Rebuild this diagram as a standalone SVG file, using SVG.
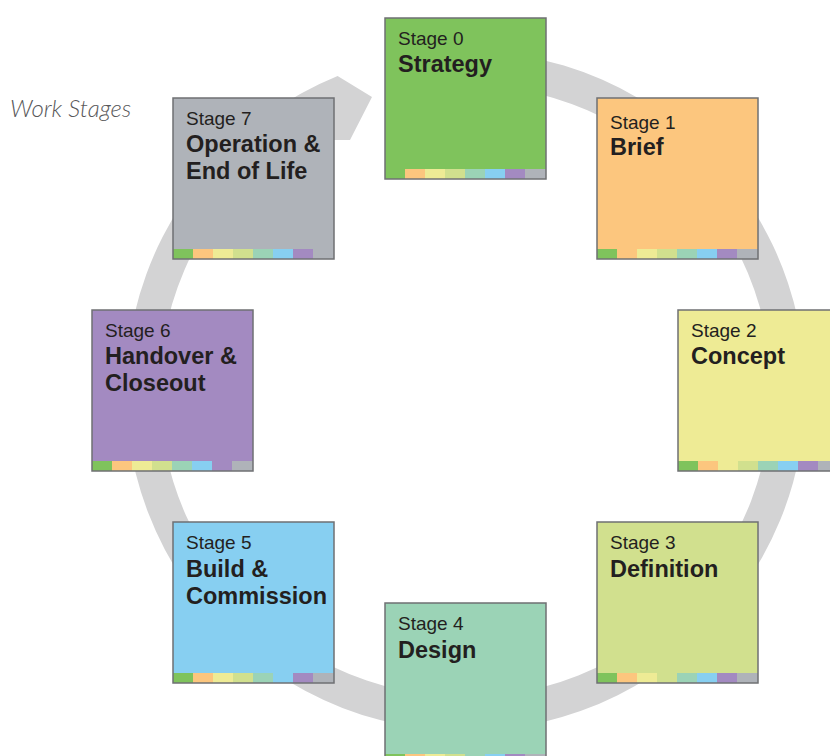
<svg xmlns="http://www.w3.org/2000/svg" xmlns:xlink="http://www.w3.org/1999/xlink" width="830" height="756" viewBox="0 0 830 756">
<style>
.lbl{font-family:"Liberation Sans",Arial,sans-serif;font-size:19px;fill:#231f20}
.ttl{font-family:"Liberation Sans",Arial,sans-serif;font-size:23.5px;font-weight:bold;fill:#231f20}
.frame{fill:none;stroke:#6f7073;stroke-width:1.5}
.ring{fill:#d3d3d4}
</style>
<defs>
<g id="strip">
<rect x="0" y="0" width="20" height="10" fill="#7fc35c"/>
<rect x="20" y="0" width="20" height="10" fill="#fcc67e"/>
<rect x="40" y="0" width="20" height="10" fill="#eeeb95"/>
<rect x="60" y="0" width="20" height="10" fill="#d1e08e"/>
<rect x="80" y="0" width="20" height="10" fill="#9bd3b6"/>
<rect x="100" y="0" width="20" height="10" fill="#87cff1"/>
<rect x="120" y="0" width="20" height="10" fill="#a38ac1"/>
<rect x="140" y="0" width="21" height="10" fill="#afb3b9"/>
</g>
</defs>
<rect width="830" height="756" fill="#ffffff"/>
<text x="10" y="117" font-family="Lato,'Open Sans',sans-serif" font-style="italic" font-weight="300" font-size="24" fill="#58585a">Work Stages</text>
<g id="connectors">
<path class="ring" d="M524.5,56.2 A340,340 0 1 1 337.6,76.1 L372,97 L350,140 L330,140 L330,116.6 A306,306 0 1 0 518.6,89.6 Z"/>
</g>
<g id="stage0">
<rect x="385" y="18" width="161" height="161" fill="#7fc35c"/>
<use xlink:href="#strip" x="385" y="169"/>
<rect class="frame" x="385" y="18" width="161" height="161"/>
<text class="lbl" x="398" y="45">Stage 0</text>
<text class="ttl" x="398" y="72">Strategy</text>
</g>
<g id="stage1">
<rect x="597" y="98" width="161" height="161" fill="#fcc67e"/>
<use xlink:href="#strip" x="597" y="249"/>
<rect class="frame" x="597" y="98" width="161" height="161"/>
<text class="lbl" x="610" y="129">Stage 1</text>
<text class="ttl" x="610" y="155">Brief</text>
</g>
<g id="stage2">
<rect x="678" y="310" width="161" height="161" fill="#eeeb95"/>
<use xlink:href="#strip" x="678" y="461"/>
<rect class="frame" x="678" y="310" width="161" height="161"/>
<text class="lbl" x="691" y="337">Stage 2</text>
<text class="ttl" x="691" y="364">Concept</text>
</g>
<g id="stage3">
<rect x="597" y="522" width="161" height="161" fill="#d1e08e"/>
<use xlink:href="#strip" x="597" y="673"/>
<rect class="frame" x="597" y="522" width="161" height="161"/>
<text class="lbl" x="610" y="549">Stage 3</text>
<text class="ttl" x="610" y="577">Definition</text>
</g>
<g id="stage4">
<rect x="385" y="603" width="161" height="161" fill="#9bd3b6"/>
<use xlink:href="#strip" x="385" y="754"/>
<rect class="frame" x="385" y="603" width="161" height="161"/>
<text class="lbl" x="398" y="630">Stage 4</text>
<text class="ttl" x="398" y="658">Design</text>
</g>
<g id="stage5">
<rect x="173" y="522" width="161" height="161" fill="#87cff1"/>
<use xlink:href="#strip" x="173" y="673"/>
<rect class="frame" x="173" y="522" width="161" height="161"/>
<text class="lbl" x="186" y="549">Stage 5</text>
<text class="ttl" x="186" y="577">Build &amp;</text>
<text class="ttl" x="186" y="604">Commission</text>
</g>
<g id="stage6">
<rect x="92" y="310" width="161" height="161" fill="#a38ac1"/>
<use xlink:href="#strip" x="92" y="461"/>
<rect class="frame" x="92" y="310" width="161" height="161"/>
<text class="lbl" x="105" y="337">Stage 6</text>
<text class="ttl" x="105" y="364">Handover &amp;</text>
<text class="ttl" x="105" y="391">Closeout</text>
</g>
<g id="stage7">
<rect x="173" y="98" width="161" height="161" fill="#afb3b9"/>
<use xlink:href="#strip" x="173" y="249"/>
<rect class="frame" x="173" y="98" width="161" height="161"/>
<text class="lbl" x="186" y="125">Stage 7</text>
<text class="ttl" x="186" y="152">Operation &amp;</text>
<text class="ttl" x="186" y="179">End of Life</text>
</g>
</svg>
